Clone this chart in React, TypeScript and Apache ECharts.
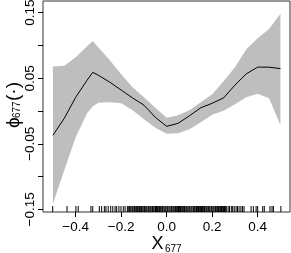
import React, { useEffect, useRef } from "react";
import * as echarts from "echarts";

const xGrid = [-0.5, -0.45, -0.4, -0.35, -0.325, -0.3, -0.25, -0.2, -0.15, -0.1, -0.05, 0, 0.05, 0.1, 0.15, 0.2, 0.25, 0.3, 0.35, 0.4, 0.45, 0.5];
const fitMean = [-0.037, -0.011, 0.021, 0.047, 0.059, 0.0545, 0.044, 0.032, 0.02, 0.009, -0.0096, -0.0234, -0.0188, -0.0073, 0.005, 0.0118, 0.02, 0.0395, 0.0568, 0.067, 0.0669, 0.0647];
const bandUpper = [0.068, 0.069, 0.082, 0.0988, 0.107, 0.0968, 0.0774, 0.056, 0.0362, 0.0209, 0.0049, -0.0104, -0.0066, 0.001, 0.0133, 0.0255, 0.0453, 0.0667, 0.0942, 0.111, 0.1253, 0.1484];
const bandLower = [-0.1414, -0.09, -0.04, -0.0035, 0.0072, 0.0125, 0.0133, 0.0118, 0.001, -0.0127, -0.0256, -0.0348, -0.034, -0.0279, -0.0173, -0.0058, 0.0003, 0.0102, 0.0209, 0.0263, 0.0194, -0.0218];

const rugX = [
  -0.501, -0.438, -0.399, -0.389, -0.333, -0.325, -0.296, -0.286, -0.274, -0.267, -0.257, -0.246, -0.237, -0.227, -0.22, -0.21, -0.201, -0.191, -0.183,
  -0.173, -0.169, -0.164, -0.161, -0.157, -0.152, -0.149, -0.144, -0.141, -0.136, -0.132, -0.129, -0.123, -0.119, -0.116, -0.111, -0.108, -0.103, -0.098, -0.095, -0.091, -0.087, -0.082, -0.079, -0.074, -0.07, -0.065, -0.062, -0.057, -0.052, -0.049, -0.045, -0.04, -0.037, -0.032, -0.028, -0.024, -0.019, -0.016, -0.011, -0.007, -0.003, 0.002, 0.005, 0.01, 0.014, 0.019, 0.022, 0.027, 0.031, 0.036, 0.039, 0.044, 0.047, 0.052, 0.056, 0.061, 0.064, 0.069, 0.073, 0.078, 0.081, 0.086, 0.09, 0.094, 0.099, 0.102, 0.107, 0.111, 0.116, 0.119, 0.123, 0.128, 0.131, 0.136, 0.14, 0.145, 0.148, 0.153, 0.157, 0.161, 0.166, 0.169, 0.174, 0.178, 0.183, 0.186, 0.19, 0.195, 0.198, 0.203, 0.207, 0.212, 0.215, 0.22, 0.224, 0.228, 0.233, 0.237, 0.241, 0.246, 0.25, 0.254, 0.258, 0.262,
  0.27, 0.276, 0.284, 0.29, 0.297, 0.305, 0.311, 0.318, 0.326, 0.333, 0.34,
  0.371, 0.381, 0.393, 0.4, 0.422, 0.429, 0.454, 0.463, 0.469, 0.502,
];

const xTickValues = [-0.4, -0.2, 0, 0.2, 0.4];
const yTickValues = [-0.15, -0.1, -0.05, 0, 0.05, 0.1, 0.15];
const yLabelValues = [-0.15, -0.05, 0.05, 0.15];

const X_MIN = -0.5437;
const X_MAX = 0.542;
const Y_MIN = -0.1541;
const Y_MAX = 0.1679;

const FONT = "'Liberation Sans', Arial, Helvetica, sans-serif";

const fmt = (v: number, d: number) => {
  const s = Math.abs(v).toFixed(d);
  return v < -1e-9 ? "\u2212" + s : s;
};

const txt = (text: string, x: number, y: number, size: number) => ({
  type: "text",
  x,
  y,
  style: {
    text,
    fontSize: size,
    fontFamily: FONT,
    fill: "#000",
    align: "left",
    verticalAlign: "middle",
    textAlign: "left",
    textVerticalAlign: "middle",
  },
});

export default function App() {
  const ref = useRef<HTMLDivElement>(null);
  useEffect(() => {
    if (!ref.current) return;
    const chart = echarts.init(ref.current, null, { renderer: "svg" });
    chart.setOption({
      animation: false,
      grid: {
        left: 43,
        right: 1,
        top: 1,
        bottom: 41,
        show: true,
        borderColor: "#333",
        borderWidth: 1,
        containLabel: false,
        outerBoundsMode: "none",
      },
      xAxis: {
        type: "value",
        min: X_MIN,
        max: X_MAX,
        axisLine: { show: false, onZero: false },
        splitLine: { show: false },
        axisTick: { show: true, customValues: xTickValues, length: 5, lineStyle: { color: "#000", width: 1 } },
        axisLabel: {
          customValues: xTickValues,
          formatter: (v: number) => fmt(v, 1),
          margin: 7,
          fontSize: 13.5,
          color: "#000",
          fontFamily: FONT,
        },
      },
      yAxis: {
        type: "value",
        min: Y_MIN,
        max: Y_MAX,
        axisLine: { show: false, onZero: false },
        splitLine: { show: false },
        axisTick: { show: true, customValues: yTickValues, length: 5, lineStyle: { color: "#000", width: 1 } },
        axisLabel: {
          customValues: yLabelValues,
          formatter: (v: number) => fmt(v, 2),
          rotate: 90,
          margin: 7,
          fontSize: 13.5,
          color: "#000",
          fontFamily: FONT,
        },
      },
      series: [
        {
          type: "custom",
          silent: true,
          z: 1,
          data: [[0, 0]],
          renderItem: (_p: any, api: any) => {
            const pts: number[][] = xGrid.map((x, i) => api.coord([x, bandUpper[i]]));
            for (let i = xGrid.length - 1; i >= 0; i--) pts.push(api.coord([xGrid[i], bandLower[i]]));
            return { type: "polygon", shape: { points: pts }, style: { fill: "#bebebe", stroke: "none" } };
          },
        },
        {
          type: "line",
          z: 3,
          silent: true,
          showSymbol: false,
          symbol: "none",
          data: xGrid.map((x, i) => [x, fitMean[i]]),
          lineStyle: { color: "#000", width: 1 },
        },
        {
          type: "custom",
          silent: true,
          z: 4,
          data: rugX.map((x) => [x, Y_MIN]),
          renderItem: (_p: any, api: any) => {
            const p = api.coord([api.value(0), Y_MIN]);
            return {
              type: "line",
              shape: { x1: p[0], y1: p[1], x2: p[0], y2: p[1] - 6 },
              style: { stroke: "#000", lineWidth: 1 },
            };
          },
        },
      ],
      graphic: [
        {
          type: "group",
          x: 0,
          y: 0,
          children: [txt("X", 151.5, 243, 18), txt("677", 165, 248, 10)],
        },
        {
          type: "group",
          x: 12,
          y: 128,
          rotation: Math.PI / 2,
          children: [txt("\u03d5", 0, 0, 19), txt("677", 10, 4, 10), txt("(\u00b7)", 27, 0, 19)],
        },
      ],
    });
    return () => chart.dispose();
  }, []);
  return <div ref={ref} style={{ position: "fixed", left: 0, top: 0, width: 291, height: 253 }} />;
}
